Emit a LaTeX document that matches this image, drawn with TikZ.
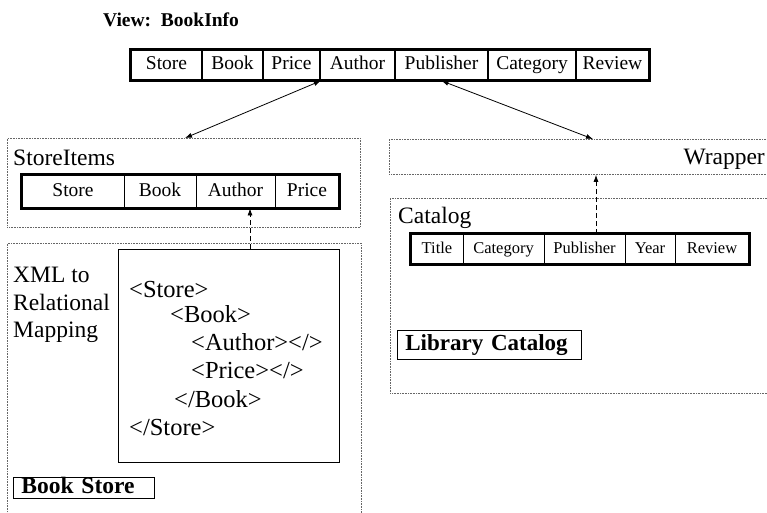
\documentclass[tikz,border=0pt]{standalone}
\usepackage{fontspec}
\setmainfont{Liberation Serif}
\usetikzlibrary{arrows.meta}

\tikzset{
  groupbox/.style={draw=black!60, line width=0.8pt, dash pattern=on 0.8pt off 0.8pt,
    inner sep=0pt, anchor=north west},
  lbl/.style={inner sep=0pt, font=\fontsize{23.5}{26}\selectfont},
  viewcell/.style={draw, line width=1.6pt, inner sep=0pt, minimum height=30,
    font=\fontsize{19.5}{21}\selectfont, text height=13pt, text depth=4pt},
  sicell/.style={draw, line width=0.8pt, inner sep=0pt, minimum height=33,
    font=\fontsize{19.5}{21}\selectfont, text height=13pt, text depth=4pt},
  cacell/.style={draw, line width=0.8pt, inner sep=0pt, minimum height=30,
    font=\fontsize{16.5}{18}\selectfont, text height=11.5pt, text depth=3.5pt},
  xmltext/.style={inner sep=0pt, anchor=base west, font=\fontsize{24.5}{26}\selectfont},
  tagbox/.style={draw, line width=0.8pt, anchor=north west, inner xsep=8pt, inner ysep=0pt,
    align=left, font=\fontsize{23.5}{25}\selectfont\bfseries, text height=15pt, text depth=3pt}
}

\begin{document}
\begin{tikzpicture}[x=1pt, y=-1pt, >={Latex[length=7pt,width=5pt]}]
  \clip (0,0) rectangle (767,512);

  % title
  \node[inner sep=0pt, anchor=base west, font=\fontsize{19.5}{22}\selectfont\bfseries] (title)
    at (103,26) {View:\ \ BookInfo};

  % view table
  \foreach \n/\txt/\xa/\xb in {vStore/Store/131/202, vBook/Book/202/263, vPrice/Price/263/320,
      vAuthor/Author/320/395, vPublisher/Publisher/395/488, vCategory/Category/488/576,
      vReview/Review/576/649}
    \node[viewcell, minimum width={(\xb-\xa)*1pt}] (\n) at ({(\xa+\xb)/2},65) {\txt};
  \draw[line width=2.4pt] (vStore.north west) rectangle (vReview.south east);

  % groups
  \node[groupbox, minimum width=353, minimum height=89] (storeitems) at (7,138) {};
  \node[groupbox, minimum width=390, minimum height=35] (wrapper) at (389,139) {};
  \node[groupbox, minimum width=390, minimum height=195] (catalog) at (390,198) {};
  \node[groupbox, minimum width=354, minimum height=290] (bookstore) at (7,243) {};

  \node[lbl, anchor=base west] (siLabel) at (13,165) {StoreItems};
  \node[lbl, anchor=base east] (wrLabel) at (765,164) {Wrapper};
  \node[lbl, anchor=base west] (caLabel) at (398,223) {Catalog};

  % StoreItems table
  \foreach \n/\txt/\xa/\xb in {siStore/Store/22/124, siBook/Book/124/196,
      siAuthor/Author/196/275, siPrice/Price/275/339}
    \node[sicell, minimum width={(\xb-\xa)*1pt}] (\n) at ({(\xa+\xb)/2},191.5) {\txt};
  \draw[line width=2.4pt] (siStore.north west) rectangle (siPrice.south east);

  % Catalog table
  \foreach \n/\txt/\xa/\xb in {caTitle/Title/411/463, caCategory/Category/463/544,
      caPublisher/Publisher/544/625, caYear/Year/625/675, caReview/Review/675/749}
    \node[cacell, minimum width={(\xb-\xa)*1pt}] (\n) at ({(\xa+\xb)/2},249) {\txt};
  \draw[line width=2.4pt] (caTitle.north west) rectangle (caReview.south east);

  % mapping
  \foreach \i/\yy/\txt in {1/282/{XML to}, 2/310/{Relational}, 3/337/{Mapping}}
    \node[lbl, anchor=base west] (map\i) at (13,\yy) {\txt};

  \node[draw, line width=0.8pt, anchor=north west, inner sep=0pt,
    minimum width=221, minimum height=213] (xml) at (118,249) {};
  \foreach \i/\xx/\yy/\txt in {1/129/297/{<Store>}, 2/170/322/{<Book>},
      3/191/350/{<Author></>}, 4/191/378/{<Price></>}, 5/174/407/{</Book>},
      6/129/435/{</Store>}}
    \node[xmltext] (xml\i) at (\xx,\yy) {\txt};

  % tags
  \node[tagbox, text width=125pt, minimum height=21] (bsTag) at (13,477) {Book Store};
  \node[tagbox, text width=168pt, minimum height=29, font=\fontsize{23}{25}\selectfont\bfseries]
    (lcTag) at (397,330) {Library Catalog};

  % links
  \coordinate (siIn) at (185,138);
  \coordinate (wrIn) at (593,139);
  \draw[<->, line width=0.8pt] (vPrice.south east) -- (siIn);
  \draw[<->, line width=0.8pt] (vPublisher.south) -- (wrIn);

  \coordinate (xmlOut) at (250,249);
  \coordinate (caOut) at (596,234);
  \draw[->, line width=0.8pt, dash pattern=on 5pt off 3pt] (xmlOut) -- (xmlOut |- siAuthor.south);
  \draw[->, line width=0.8pt, dash pattern=on 5pt off 3pt] (caOut) -- (caOut |- wrapper.south);
\end{tikzpicture}
\end{document}
